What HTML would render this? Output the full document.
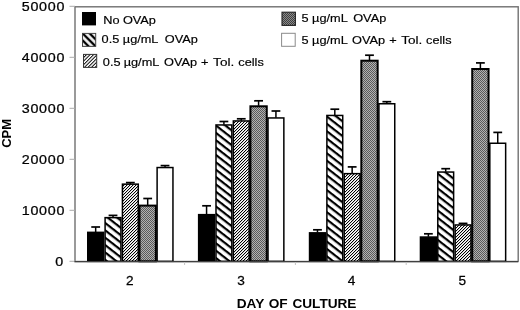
<!DOCTYPE html>
<html><head><meta charset="utf-8"><style>
html,body{margin:0;padding:0;background:#fff;}
svg{display:block;will-change:transform;filter:blur(0.3px);}
.ax{font-family:"Liberation Sans",sans-serif;font-size:13px;fill:#000;}
.lg{font-family:"Liberation Sans",sans-serif;font-size:11.8px;fill:#000;stroke:#000;stroke-width:0.18px;white-space:pre;}
.yl{stroke:#000;stroke-width:0.25px;}
.bd{font-family:"Liberation Sans",sans-serif;font-size:13px;font-weight:bold;fill:#000;}
</style></head><body>
<svg width="520" height="310" viewBox="0 0 520 310">
<defs>
<pattern id="wide" patternUnits="userSpaceOnUse" width="20" height="5.8" patternTransform="translate(0,-0.4) rotate(38)">
<rect width="20" height="5.8" fill="#fff"/><rect y="0" width="20" height="2.2" fill="#000"/>
</pattern>
<pattern id="wideL" patternUnits="userSpaceOnUse" width="20" height="4.95" patternTransform="translate(82.6,33.4) rotate(45)">
<rect width="20" height="4.95" fill="#fff"/><rect y="0" width="20" height="1.2" fill="#000"/><rect y="3.75" width="20" height="1.2" fill="#000"/>
</pattern>
<pattern id="fine" patternUnits="userSpaceOnUse" x="0" y="0" width="3" height="3">
<rect width="3" height="3" fill="#fff"/>
<rect x="2" y="0" width="1" height="1" fill="#000"/><rect x="1" y="1" width="1" height="1" fill="#000"/><rect x="0" y="2" width="1" height="1" fill="#000"/>
<rect x="0" y="0" width="1" height="1" fill="#d0d0d0"/><rect x="2" y="1" width="1" height="1" fill="#d0d0d0"/><rect x="1" y="2" width="1" height="1" fill="#d0d0d0"/>
</pattern>
<pattern id="fineL" patternUnits="userSpaceOnUse" width="20" height="2.5" patternTransform="translate(83,54) rotate(-45)">
<rect width="20" height="2.5" fill="#fff"/><rect y="0" width="20" height="0.95" fill="#000"/>
</pattern>
<pattern id="gray" patternUnits="userSpaceOnUse" width="2" height="2">
<rect width="2" height="2" fill="#b2b2b2"/><rect width="1" height="1" fill="#5a5a5a"/><rect x="1" y="1" width="1" height="1" fill="#5a5a5a"/>
</pattern>
<pattern id="grayL" patternUnits="userSpaceOnUse" width="2" height="2">
<rect width="2" height="2" fill="#8a8a8a"/><rect width="1" height="1" fill="#404040"/><rect x="1" y="1" width="1" height="1" fill="#404040"/>
</pattern>
</defs>
<rect x="0" y="0" width="520" height="310" fill="#fff"/>
<rect x="75" y="6.8" width="443.2" height="254.7" fill="none" stroke="#707070" stroke-width="1.4"/>
<line x1="69.5" y1="6.30" x2="75" y2="6.30" stroke="#aaa" stroke-width="1"/><text transform="matrix(1.1,0,0,1,65.1,10.50)" text-anchor="end" class="ax yl" letter-spacing="0.65">50000</text><line x1="69.5" y1="57.30" x2="75" y2="57.30" stroke="#aaa" stroke-width="1"/><text transform="matrix(1.1,0,0,1,65.1,61.50)" text-anchor="end" class="ax yl" letter-spacing="0.65">40000</text><line x1="69.5" y1="108.30" x2="75" y2="108.30" stroke="#aaa" stroke-width="1"/><text transform="matrix(1.1,0,0,1,65.1,112.50)" text-anchor="end" class="ax yl" letter-spacing="0.65">30000</text><line x1="69.5" y1="159.30" x2="75" y2="159.30" stroke="#aaa" stroke-width="1"/><text transform="matrix(1.1,0,0,1,65.1,163.50)" text-anchor="end" class="ax yl" letter-spacing="0.65">20000</text><line x1="69.5" y1="210.30" x2="75" y2="210.30" stroke="#aaa" stroke-width="1"/><text transform="matrix(1.1,0,0,1,65.1,214.50)" text-anchor="end" class="ax yl" letter-spacing="0.65">10000</text><line x1="69.5" y1="261.30" x2="75" y2="261.30" stroke="#aaa" stroke-width="1"/><text transform="matrix(1.1,0,0,1,63.9,265.50)" text-anchor="end" class="ax yl" letter-spacing="0.65">0</text>
<line x1="95.67" y1="227.00" x2="95.67" y2="232.10" stroke="#000" stroke-width="1.5"/><line x1="91.27" y1="227.00" x2="100.07" y2="227.00" stroke="#000" stroke-width="1.7"/><rect x="87.75" y="232.35" width="15.84" height="28.95" fill="#000" stroke="#000" stroke-width="1.5"/><line x1="113.01" y1="215.40" x2="113.01" y2="217.40" stroke="#000" stroke-width="1.5"/><line x1="108.61" y1="215.40" x2="117.41" y2="215.40" stroke="#000" stroke-width="1.7"/><rect x="105.09" y="217.65" width="15.84" height="43.65" fill="url(#wide)" stroke="#000" stroke-width="1.5"/><line x1="130.35" y1="182.60" x2="130.35" y2="183.90" stroke="#000" stroke-width="1.5"/><line x1="125.95" y1="182.60" x2="134.75" y2="182.60" stroke="#000" stroke-width="1.7"/><rect x="122.43" y="184.15" width="15.84" height="77.15" fill="url(#fine)" stroke="#000" stroke-width="1.5"/><line x1="147.69" y1="198.50" x2="147.69" y2="205.10" stroke="#000" stroke-width="1.5"/><line x1="143.29" y1="198.50" x2="152.09" y2="198.50" stroke="#000" stroke-width="1.7"/><rect x="139.52" y="205.60" width="16.34" height="55.70" fill="url(#gray)" stroke="#000" stroke-width="2.0"/><line x1="165.03" y1="165.60" x2="165.03" y2="167.30" stroke="#000" stroke-width="1.5"/><line x1="160.63" y1="165.60" x2="169.43" y2="165.60" stroke="#000" stroke-width="1.7"/><rect x="157.11" y="167.55" width="15.84" height="93.75" fill="#fff" stroke="#000" stroke-width="1.5"/><line x1="206.57" y1="205.80" x2="206.57" y2="214.40" stroke="#000" stroke-width="1.5"/><line x1="202.17" y1="205.80" x2="210.97" y2="205.80" stroke="#000" stroke-width="1.7"/><rect x="198.65" y="214.65" width="15.84" height="46.65" fill="#000" stroke="#000" stroke-width="1.5"/><line x1="223.91" y1="121.50" x2="223.91" y2="124.70" stroke="#000" stroke-width="1.5"/><line x1="219.51" y1="121.50" x2="228.31" y2="121.50" stroke="#000" stroke-width="1.7"/><rect x="215.99" y="124.95" width="15.84" height="136.35" fill="url(#wide)" stroke="#000" stroke-width="1.5"/><line x1="241.25" y1="118.80" x2="241.25" y2="120.70" stroke="#000" stroke-width="1.5"/><line x1="236.85" y1="118.80" x2="245.65" y2="118.80" stroke="#000" stroke-width="1.7"/><rect x="233.33" y="120.95" width="15.84" height="140.35" fill="url(#fine)" stroke="#000" stroke-width="1.5"/><line x1="258.59" y1="100.80" x2="258.59" y2="105.80" stroke="#000" stroke-width="1.5"/><line x1="254.19" y1="100.80" x2="262.99" y2="100.80" stroke="#000" stroke-width="1.7"/><rect x="250.42" y="106.30" width="16.34" height="155.00" fill="url(#gray)" stroke="#000" stroke-width="2.0"/><line x1="275.93" y1="111.00" x2="275.93" y2="117.70" stroke="#000" stroke-width="1.5"/><line x1="271.53" y1="111.00" x2="280.33" y2="111.00" stroke="#000" stroke-width="1.7"/><rect x="268.01" y="117.95" width="15.84" height="143.35" fill="#fff" stroke="#000" stroke-width="1.5"/><line x1="317.47" y1="229.80" x2="317.47" y2="232.60" stroke="#000" stroke-width="1.5"/><line x1="313.07" y1="229.80" x2="321.87" y2="229.80" stroke="#000" stroke-width="1.7"/><rect x="309.55" y="232.85" width="15.84" height="28.45" fill="#000" stroke="#000" stroke-width="1.5"/><line x1="334.81" y1="109.20" x2="334.81" y2="115.20" stroke="#000" stroke-width="1.5"/><line x1="330.41" y1="109.20" x2="339.21" y2="109.20" stroke="#000" stroke-width="1.7"/><rect x="326.89" y="115.45" width="15.84" height="145.85" fill="url(#wide)" stroke="#000" stroke-width="1.5"/><line x1="352.15" y1="166.90" x2="352.15" y2="173.40" stroke="#000" stroke-width="1.5"/><line x1="347.75" y1="166.90" x2="356.55" y2="166.90" stroke="#000" stroke-width="1.7"/><rect x="344.23" y="173.65" width="15.84" height="87.65" fill="url(#fine)" stroke="#000" stroke-width="1.5"/><line x1="369.49" y1="55.20" x2="369.49" y2="60.20" stroke="#000" stroke-width="1.5"/><line x1="365.09" y1="55.20" x2="373.89" y2="55.20" stroke="#000" stroke-width="1.7"/><rect x="361.32" y="60.70" width="16.34" height="200.60" fill="url(#gray)" stroke="#000" stroke-width="2.0"/><line x1="386.83" y1="101.70" x2="386.83" y2="103.50" stroke="#000" stroke-width="1.5"/><line x1="382.43" y1="101.70" x2="391.23" y2="101.70" stroke="#000" stroke-width="1.7"/><rect x="378.91" y="103.75" width="15.84" height="157.55" fill="#fff" stroke="#000" stroke-width="1.5"/><line x1="428.37" y1="233.80" x2="428.37" y2="236.80" stroke="#000" stroke-width="1.5"/><line x1="423.97" y1="233.80" x2="432.77" y2="233.80" stroke="#000" stroke-width="1.7"/><rect x="420.45" y="237.05" width="15.84" height="24.25" fill="#000" stroke="#000" stroke-width="1.5"/><line x1="445.71" y1="168.70" x2="445.71" y2="171.80" stroke="#000" stroke-width="1.5"/><line x1="441.31" y1="168.70" x2="450.11" y2="168.70" stroke="#000" stroke-width="1.7"/><rect x="437.79" y="172.05" width="15.84" height="89.25" fill="url(#wide)" stroke="#000" stroke-width="1.5"/><line x1="463.05" y1="223.40" x2="463.05" y2="224.70" stroke="#000" stroke-width="1.5"/><line x1="458.65" y1="223.40" x2="467.45" y2="223.40" stroke="#000" stroke-width="1.7"/><rect x="455.13" y="224.95" width="15.84" height="36.35" fill="url(#fine)" stroke="#000" stroke-width="1.5"/><line x1="480.39" y1="62.90" x2="480.39" y2="68.50" stroke="#000" stroke-width="1.5"/><line x1="475.99" y1="62.90" x2="484.79" y2="62.90" stroke="#000" stroke-width="1.7"/><rect x="472.22" y="69.00" width="16.34" height="192.30" fill="url(#gray)" stroke="#000" stroke-width="2.0"/><line x1="497.73" y1="132.40" x2="497.73" y2="143.00" stroke="#000" stroke-width="1.5"/><line x1="493.33" y1="132.40" x2="502.13" y2="132.40" stroke="#000" stroke-width="1.7"/><rect x="489.81" y="143.25" width="15.84" height="118.05" fill="#fff" stroke="#000" stroke-width="1.5"/>
<line x1="74.5" y1="261.6" x2="518" y2="261.6" stroke="#404040" stroke-width="1.1"/>
<line x1="184.6" y1="262" x2="184.6" y2="265" stroke="#c4c4c4" stroke-width="1"/><line x1="295.4" y1="262" x2="295.4" y2="265" stroke="#c4c4c4" stroke-width="1"/><line x1="406.2" y1="262" x2="406.2" y2="265" stroke="#c4c4c4" stroke-width="1"/>
<text transform="matrix(1.05,0,0,1,129.70,285.0)" text-anchor="middle" class="ax yl">2</text><text transform="matrix(1.05,0,0,1,241.00,285.0)" text-anchor="middle" class="ax yl">3</text><text transform="matrix(1.05,0,0,1,351.50,285.0)" text-anchor="middle" class="ax yl">4</text><text transform="matrix(1.05,0,0,1,462.20,285.0)" text-anchor="middle" class="ax yl">5</text>
<text transform="matrix(1.02,0,0,1,236.8,308.2)" class="bd" style="font-size:13.4px;word-spacing:1px" textLength="117.3" lengthAdjust="spacing">DAY OF CULTURE</text>
<text transform="translate(11.2,147.8) rotate(-90)" class="bd">CPM</text>

<rect x="82" y="12" width="14" height="13.4" fill="#000"/>
<rect x="82.5" y="33.4" width="13.2" height="13.0" fill="url(#wideL)" stroke="#444" stroke-width="1.0"/>
<rect x="83.5" y="54.4" width="13.2" height="13.0" fill="url(#fineL)" stroke="#333" stroke-width="1.0"/>
<rect x="282.0" y="12.2" width="13.4" height="13.2" fill="url(#grayL)" stroke="#222" stroke-width="1.1"/>
<rect x="281.6" y="33.3" width="13.6" height="13.0" fill="#fff" stroke="#8a8a8a" stroke-width="1.0"/>
<text transform="matrix(1.08,0,0,1,103.20,24.00)" class="lg">No</text>
<text transform="matrix(1.08,0,0,1,122.90,24.00)" class="lg">OVAp</text>
<text transform="matrix(1.08,0,0,1,101.60,42.60)" class="lg">0.5</text>
<text transform="matrix(1.08,0,0,1,122.80,42.60)" class="lg">µg/mL</text>
<text transform="matrix(1.08,0,0,1,164.80,42.60)" class="lg">OVAp</text>
<text transform="matrix(1.08,0,0,1,102.80,66.20)" class="lg">0.5</text>
<text transform="matrix(1.08,0,0,1,123.70,66.20)" class="lg">µg/mL</text>
<text transform="matrix(1.08,0,0,1,164.10,66.20)" class="lg">OVAp</text>
<text transform="matrix(1.08,0,0,1,200.90,66.20)" class="lg">+</text>
<text transform="matrix(1.15,0,0,1,213.10,66.20)" class="lg">Tol.</text>
<text transform="matrix(1.08,0,0,1,238.30,66.20)" class="lg">cells</text>
<text transform="matrix(1.08,0,0,1,301.40,22.10)" class="lg">5</text>
<text transform="matrix(1.08,0,0,1,312.10,22.10)" class="lg">µg/mL</text>
<text transform="matrix(1.08,0,0,1,353.20,22.10)" class="lg">OVAp</text>
<text transform="matrix(1.08,0,0,1,301.40,43.80)" class="lg">5</text>
<text transform="matrix(1.08,0,0,1,312.10,43.80)" class="lg">µg/mL</text>
<text transform="matrix(1.08,0,0,1,352.00,43.80)" class="lg">OVAp</text>
<text transform="matrix(1.08,0,0,1,389.20,43.80)" class="lg">+</text>
<text transform="matrix(1.15,0,0,1,401.20,43.80)" class="lg">Tol.</text>
<text transform="matrix(1.08,0,0,1,426.10,43.80)" class="lg">cells</text>

</svg>
</body></html>
